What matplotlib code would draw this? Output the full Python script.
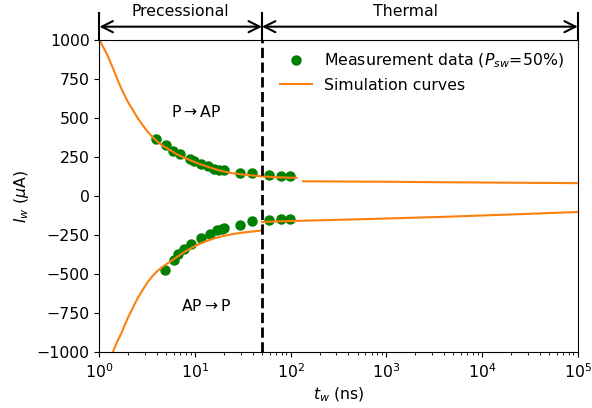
import numpy as np
import matplotlib
matplotlib.use('Agg')
import matplotlib.pyplot as plt

# measured points (t_w in ns, I_w in uA)
t_meas_p2ap = [3.92, 5.0, 5.94, 7.0, 8.85, 9.84, 11.5, 13.5, 15.9, 17.9, 20.2, 29.7, 39.5, 59, 79, 98]
i_meas_p2ap = [366, 332, 291, 268, 236, 225, 204, 195, 178, 171, 171, 152, 146, 135, 130, 130]
t_meas_ap2p = [4.9, 6.0, 6.7, 7.7, 9.1, 11.5, 14.4, 16.8, 18.9, 20.2, 29.7, 39.5, 59, 79, 98]
i_meas_ap2p = [-475, -406, -368, -336, -304, -268, -240, -218, -207, -203, -182, -161, -154, -148, -143]

# simulation curves
t_sim_prec_p2ap = [1.0, 1.05, 1.1, 1.16, 1.22, 1.32, 1.43, 1.55, 1.69, 1.83, 1.98, 2.25, 2.52, 2.85, 3.2, 3.6,
                   4.06, 4.7, 5.5, 6.3, 7.5, 8.9, 11, 14.4, 18, 23.3, 30, 37.4, 49, 70, 115]
i_sim_prec_p2ap = [1000, 977, 954, 927, 900, 851, 800, 746, 692, 648, 606, 550, 500, 454, 413, 379,
                   349, 320, 296, 272, 250, 231, 208, 184, 165, 150, 141, 135, 128, 122, 118]
t_sim_therm_p2ap = [134, 1000, 3600, 20000, 100000]
i_sim_therm_p2ap = [96, 93, 90, 87, 84]

t_sim_prec_ap2p = [1.38, 1.52, 1.69, 1.84, 2.0, 2.25, 2.5, 2.85, 3.2, 3.6, 4.0, 4.5, 5.0, 5.6,
                   6.3, 7.1, 8.0, 9.0, 10, 12.6, 15.9, 20, 25, 31.6, 40, 50]
i_sim_prec_ap2p = [-1000, -938, -880, -826, -775, -712, -655, -598, -550, -511, -482, -456, -436, -416,
                   -394, -373, -352, -334, -318, -291, -270, -254, -242, -233, -226, -220]
t_sim_therm_ap2p = [50, 76, 500, 3600, 20000, 100000]
i_sim_therm_ap2p = [-165, -161, -148, -133, -117, -101]

t_switch = 50
orange = '#ff7f0e'
green = 'green'

plt.rcParams['font.size'] = 11.3
fig = plt.figure(figsize=(5.92, 4.08), dpi=100)
ax = fig.add_axes([0.168, 0.137, 0.808, 0.764])

ax.plot(t_meas_p2ap, i_meas_p2ap, 'o', color=green, markersize=6.5,
        label='Measurement data ($P_{sw}$=50%)')
ax.plot(t_meas_ap2p, i_meas_ap2p, 'o', color=green, markersize=6.5)

ax.plot(t_sim_prec_p2ap, i_sim_prec_p2ap, color=orange, lw=1.5, label='Simulation curves')
ax.plot(t_sim_therm_p2ap, i_sim_therm_p2ap, color=orange, lw=1.5)
ax.plot(t_sim_prec_ap2p, i_sim_prec_ap2p, color=orange, lw=1.5)
ax.plot(t_sim_therm_ap2p, i_sim_therm_ap2p, color=orange, lw=1.5)

ax.axvline(t_switch, color='black', ls='--', lw=2)

ax.set_xscale('log')
ax.set_xlim(1, 1e5)
ax.set_ylim(-1000, 1000)
ax.set_yticks(np.arange(-1000, 1001, 250))
ax.set_xlabel('$t_w$ (ns)')
ax.set_ylabel('$I_w$ ($\\mu$A)')

ax.text(10.3, 540, 'P$\\rightarrow$AP', ha='center', va='center')
ax.text(13.1, -706, 'AP$\\rightarrow$P', ha='center', va='center')

ax.legend(loc='upper left', bbox_to_anchor=(0.355, 1.0), frameon=False,
          handlelength=2.0, borderaxespad=0.3)

# regime arrows above the axes
trans = ax.get_xaxis_transform()
for xb in [1, t_switch, 1e5]:
    ax.plot([xb, xb], [1.0, 1.089], color='black', lw=1.5, transform=trans, clip_on=False)
for x0, x1 in [(1, t_switch), (t_switch, 1e5)]:
    ax.annotate('', xy=(x0, 1.044), xytext=(x1, 1.044), xycoords=trans, textcoords=trans,
                arrowprops=dict(arrowstyle='<->', color='black', lw=1.5,
                                shrinkA=0, shrinkB=0, mutation_scale=20))
ax.text(7.07, 1.092, 'Precessional', transform=trans, ha='center', va='center')
ax.text(1600, 1.092, 'Thermal', transform=trans, ha='center', va='center')

fig.savefig('out.png', dpi=100)
